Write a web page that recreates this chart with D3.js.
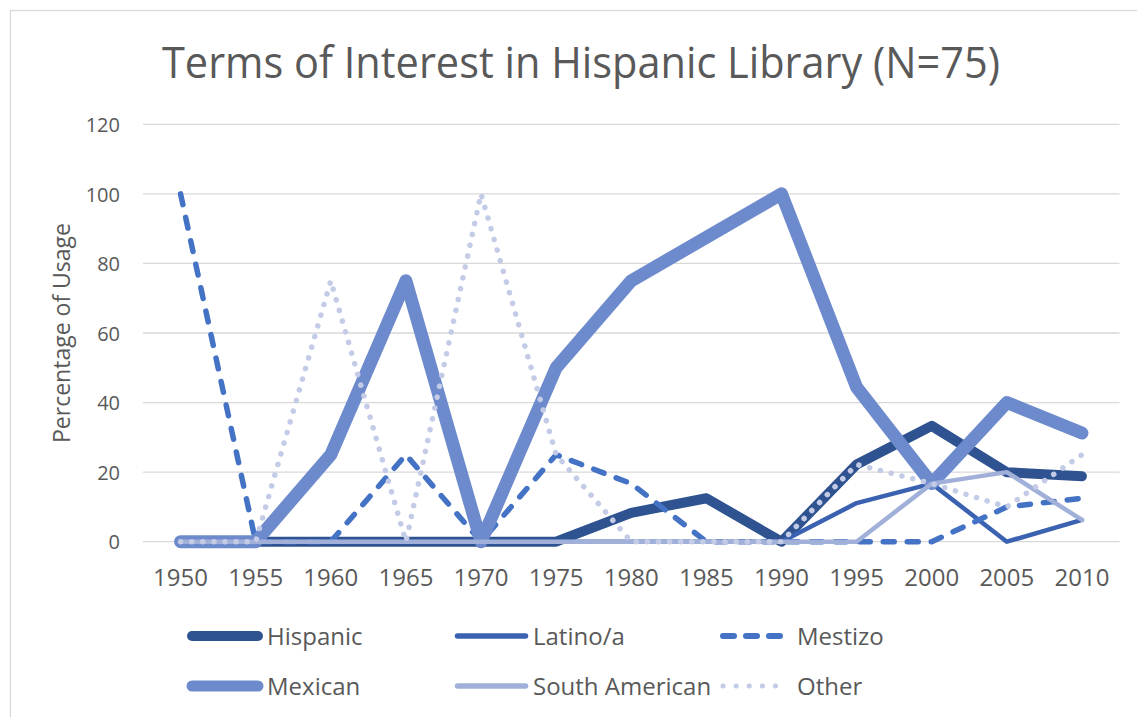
<!DOCTYPE html>
<html>
<head>
<meta charset="utf-8">
<script src="https://cdn.jsdelivr.net/npm/d3@7/dist/d3.min.js"></script>
<style>
  html, body { margin: 0; padding: 0; background: #ffffff; }
  svg { display: block; }
  text { font-family: "Open Sans", "Noto Sans", sans-serif; fill: #595959; }
</style>
</head>
<body>
<svg id="chart" width="1137" height="717"></svg>
<script>
// Years on the category axis
const years = ["1950","1955","1960","1965","1970","1975","1980","1985","1990","1995","2000","2005","2010"];

// Percentage of usage per term, one value per year
const hispanic      = [0, 0, 0, 0, 0, 0, 8.3, 12.5, 0, 22.2, 33.3, 20, 18.8];
const latino        = [0, 0, 0, 0, 0, 0, 0, 0, 0, 11.1, 16.7, 0, 6.25];
const mestizo       = [100, 0, 0, 25, 0, 25, 16.7, 0, 0, 0, 0, 10, 12.5];
const mexican       = [0, 0, 25, 75, 0, 50, 75, 87.5, 100, 44.4, 16.7, 40, 31.25];
const southAmerican = [0, 0, 0, 0, 0, 0, 0, 0, 0, 0, 16.7, 20, 6.25];
const other         = [0, 0, 75, 0, 100, 25, 0, 0, 0, 22.2, 16.7, 10, 25];

const seriesNames = ["Hispanic", "Latino/a", "Mestizo", "Mexican", "South American", "Other"];
const yTicks = [0, 20, 40, 60, 80, 100, 120];

const title = "Terms of Interest in Hispanic Library (N=75)";
const yTitle = "Percentage of Usage";

// Line styling per series
const styles = [
  { color: "#2f5290", width: 10,  dash: null },
  { color: "#3a62b0", width: 4.5, dash: null },
  { color: "#4472c4", width: 5.5, dash: "11,13" },
  { color: "#6d8bcc", width: 13,  dash: null },
  { color: "#a1b0d9", width: 4.5, dash: null },
  { color: "#c3cbe6", width: 5.5, dash: "0.1,11" }
];

const seriesValues = [hispanic, latino, mestizo, mexican, southAmerican, other];
const series = seriesNames.map((name, i) => ({ name, values: seriesValues[i], style: styles[i] }));

const svg = d3.select("#chart");

// Chart frame
svg.append("rect")
  .attr("x", 10.5).attr("y", 10.5)
  .attr("width", 1200).attr("height", 800)
  .attr("fill", "#ffffff")
  .attr("stroke", "#d9d9d9").attr("stroke-width", 1.3);

const plot = { left: 143, right: 1119.5, top: 124.3, bottom: 541.7 };

const x = d3.scaleBand().domain(years).range([plot.left, plot.right]).padding(0);
const cx = d => x(d) + x.bandwidth() / 2;
const y = d3.scaleLinear().domain([0, 120]).range([plot.bottom, plot.top]);

// Horizontal gridlines
svg.append("g")
  .selectAll("line")
  .data(yTicks)
  .join("line")
  .attr("x1", plot.left).attr("x2", plot.right)
  .attr("y1", d => y(d)).attr("y2", d => y(d))
  .attr("stroke", "#d9d9d9").attr("stroke-width", 1.3);

// Y axis labels
const yAxis = d3.axisLeft(y).tickValues(yTicks).tickSize(0).tickPadding(0);
const yg = svg.append("g").attr("transform", `translate(${plot.left - 23},0)`).call(yAxis);
yg.select(".domain").remove();
yg.selectAll("text")
  .style("font-family", '"Open Sans", sans-serif')
  .style("font-size", "20px")
  .attr("fill", "#595959")
  .attr("dy", "0.36em");

// X axis labels
const xAxis = d3.axisBottom(x).tickSize(0).tickPadding(0);
const xg = svg.append("g").attr("transform", `translate(0,${plot.bottom})`).call(xAxis);
xg.select(".domain").remove();
xg.selectAll("text")
  .style("font-family", '"Open Sans", sans-serif')
  .style("font-size", "24px")
  .attr("fill", "#595959")
  .attr("y", 44).attr("dy", 0);

// Series lines
const line = d3.line()
  .x((d, i) => cx(years[i]))
  .y(d => y(d));

svg.append("g")
  .selectAll("path")
  .data(series)
  .join("path")
  .attr("d", s => line(s.values))
  .attr("fill", "none")
  .attr("stroke", s => s.style.color)
  .attr("stroke-width", s => s.style.width)
  .attr("stroke-linejoin", "round")
  .attr("stroke-linecap", "round")
  .attr("stroke-dasharray", s => s.style.dash);

// Title
svg.append("text")
  .attr("x", 162).attr("y", 78)
  .attr("text-anchor", "start")
  .attr("textLength", 838)
  .attr("lengthAdjust", "spacingAndGlyphs")
  .style("font-size", "43px")
  .text(title);

// Y axis title
svg.append("text")
  .attr("transform", `translate(70,333) rotate(-90)`)
  .attr("text-anchor", "middle")
  .style("font-size", "23px")
  .text(yTitle);

// Legend: three columns, two rows
const legendCols = [
  { x1: 192, x2: 258, tx: 267 },
  { x1: 457.5, x2: 525.5, tx: 533 },
  { x1: 723, x2: 782, tx: 797 }
];
const legendRows = [636, 686];
const legendStyles = [
  { width: 10, dash: null },
  { width: 5.5, dash: null },
  { width: 6, dash: "11,12" },
  { width: 11, dash: null },
  { width: 5.5, dash: null },
  { width: 5, dash: "0.1,13" }
];

const legend = svg.append("g")
  .selectAll("g")
  .data(series)
  .join("g")
  .attr("transform", (s, i) => `translate(0,${legendRows[Math.floor(i / 3)]})`);

legend.append("line")
  .attr("x1", (s, i) => legendCols[i % 3].x1)
  .attr("x2", (s, i) => legendCols[i % 3].x2)
  .attr("y1", 0).attr("y2", 0)
  .attr("stroke", s => s.style.color)
  .attr("stroke-width", (s, i) => legendStyles[i].width)
  .attr("stroke-linecap", "round")
  .attr("stroke-dasharray", (s, i) => legendStyles[i].dash);

legend.append("text")
  .attr("x", (s, i) => legendCols[i % 3].tx)
  .attr("y", 8.5)
  .style("font-size", "24px")
  .text(s => s.name);
</script>
</body>
</html>
